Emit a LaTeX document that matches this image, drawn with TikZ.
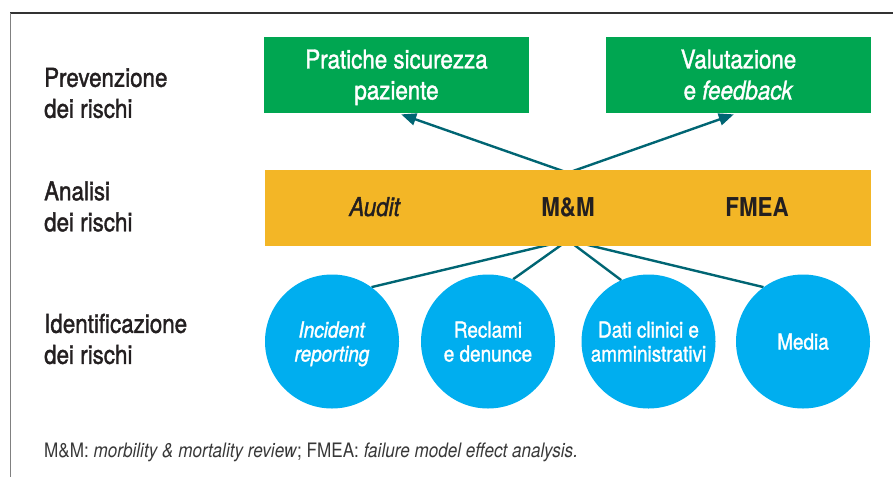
\documentclass[tikz,border=0pt]{standalone}
\usepackage{fontspec}
\setmainfont{TeX Gyre Heros}[FakeStretch=0.86,
  UprightFeatures={FakeBold=1.4}, ItalicFeatures={FakeBold=1.4}]
\newfontfamily\notafont{TeX Gyre Heros}[FakeStretch=0.86]
\usetikzlibrary{positioning,arrows.meta,backgrounds}
\definecolor{verdebox}{RGB}{0,166,81}
\definecolor{gialloband}{RGB}{243,182,38}
\definecolor{azzurro}{RGB}{0,174,239}
\definecolor{petrolio}{RGB}{0,101,115}
\definecolor{testo}{RGB}{35,31,32}
\tikzset{
  >={Triangle[length=15pt,width=12pt]},
  etichetta/.style={anchor=west, align=left, inner sep=0pt, text=testo,
    font=\fontsize{26}{31}\selectfont},
  prevbox/.style={fill=verdebox, text=white, align=center, inner sep=0pt,
    minimum width=265pt, minimum height=76pt, text depth=0pt,
    font=\fontsize{26}{31}\selectfont},
  fascia/.style={fill=gialloband, minimum width=606pt, minimum height=76pt, inner sep=0pt},
  metodo/.style={anchor=base, text=testo, inner sep=0pt, font=\fontsize{26}{31}\selectfont},
  fonte/.style={circle, fill=azzurro, text=white, align=center, inner sep=0pt,
    minimum size=134pt, text depth=0pt, font=\fontsize{22}{24}\selectfont},
  freccia/.style={->, line width=2.4pt, draw=petrolio, shorten >=5pt},
  legame/.style={line width=2.4pt, draw=petrolio},
  nota/.style={anchor=base west, inner sep=0pt, text=black!78, font=\notafont\fontsize{19.9}{22}\selectfont},
}

\begin{document}
\begin{tikzpicture}[x=1pt,y=-1pt]
    \useasboundingbox (0,0) rectangle (893,477);
    % cornice
    \draw[line width=1.2pt, draw=black!80] (10,13) -- (893,13);
    \draw[line width=1pt, draw=black!50] (10,13) -- (10,477);
    % livelli
    \node[etichetta] (lprev)  at (44,93)    {Prevenzione\\dei rischi};
    \node[etichetta] (lanal)  at (44,206.5) {Analisi\\dei rischi};
    \node[etichetta] (lident) at (44,339)   {Identificazione\\dei rischi};
    % prevenzione
    \node[prevbox] (prat) at (396.5,74.5) {Pratiche sicurezza\\paziente};
    \node[prevbox] (valu) at (738.5,74.5) {Valutazione\\e \textit{feedback}};
    % analisi
    \node[fascia] (band) at (568,208) {};
    \node[metodo] (audit) at (375,216) {\textit{Audit}};
    \node[metodo] (mm)    at (568,216) {\textbf{M\&M}};
    \node[metodo] (fmea)  at (757,216) {\textbf{FMEA}};
    % identificazione
    \node[fonte] (inc)  at (332,341.5)   {\textit{Incident}\\\textit{reporting}};
    \node[fonte] (recl) at (488,341.5)   {Reclami\\e denunce};
    \node[fonte] (dati) at (648.5,341.5) {Dati clinici e\\amministrativi};
    \node[fonte] (media) at (803,341.5)  {Media};
    % collegamenti
    \coordinate (hubsu)  at ([yshift=-3pt]band.north);
    \coordinate (hubgiu) at ([yshift=6pt]band.south);
    \begin{scope}[on background layer]
      \draw[freccia] (hubsu) -- (prat.south);
      \draw[freccia] (hubsu) -- (valu.south);
      \draw[legame] (hubgiu) -- (inc.54);
      \draw[legame] (hubgiu) -- (recl.68);
      \draw[legame] (hubgiu) -- (dati.114);
      \draw[legame] (hubgiu) -- (media.126);
    \end{scope}
    % legenda
    \node[nota] (leg) at (44,457) {M\&M: \textit{morbility \& mortality review}; FMEA: \textit{failure model effect analysis.}};
\end{tikzpicture}
\end{document}
